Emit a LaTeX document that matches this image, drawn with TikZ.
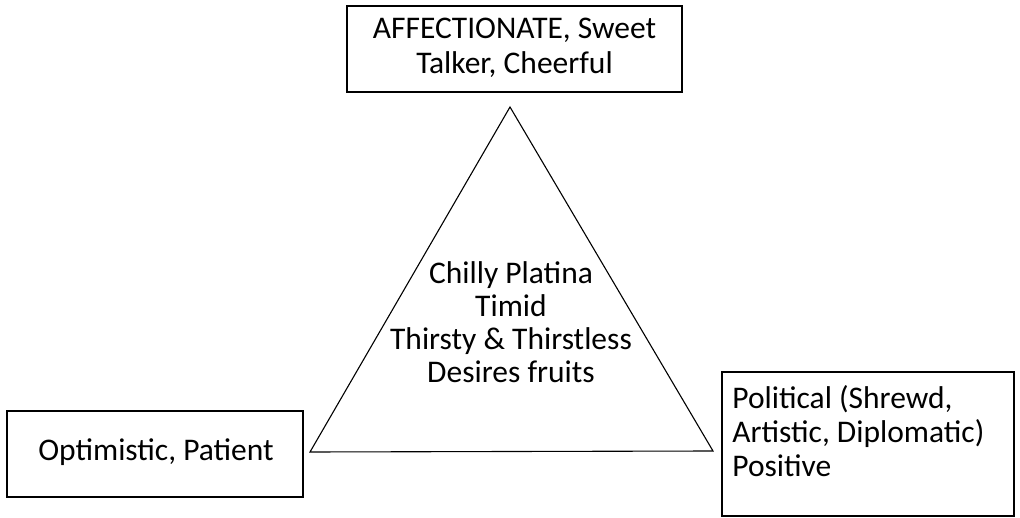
\documentclass[tikz,border=0pt]{standalone}
\usepackage{fontspec}
\setmainfont{Carlito}
\usetikzlibrary{calc}
\begin{document}
\begin{tikzpicture}[x=1pt,y=-1pt,
  box/.style={draw, line width=1.6pt, inner sep=0pt},
  txt/.style={font=\fontsize{31.5}{35}\selectfont, inner sep=0pt},
  tri/.style={line width=1.1pt, line join=miter}]
\useasboundingbox (0,0) rectangle (1020,518);
% boxes
\node[box, minimum width=335pt, minimum height=86pt] (top) at (514.5,49) {};
\node[txt, align=center] (toptxt) at (514.5,48) {AFFECTIONATE, Sweet\\Talker, Cheerful};
\node[box, minimum width=296pt, minimum height=86pt] (left) at (155,454) {};
\node[txt, anchor=base] (lefttxt) at (156,460) {Optimistic, Patient};
\node[box, minimum width=292pt, minimum height=144pt] (right) at (868,444) {};
\node[txt, align=left, anchor=north west, font=\fontsize{31.5}{34}\selectfont] (righttxt) at ($(right.north west)+(11,14)$) {Political (Shrewd,\\Artistic, Diplomatic)\\Positive};
% triangle
\coordinate (A) at (510,107);
\coordinate (B) at (310,452);
\coordinate (C) at (713,451);
\draw[tri] (A) -- (B) -- (C) -- cycle;
\node[txt, align=center, font=\fontsize{31.5}{33}\selectfont] (center) at (511,322) {Chilly Platina\\Timid\\Thirsty \& Thirstless\\Desires fruits};
\end{tikzpicture}
\end{document}
